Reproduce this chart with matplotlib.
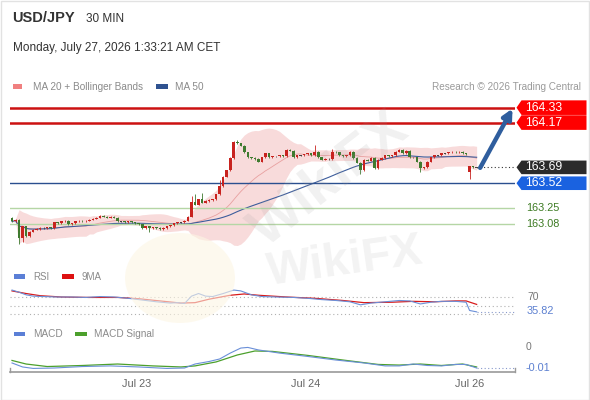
import matplotlib
matplotlib.use("Agg")
import matplotlib.pyplot as plt
from matplotlib.patches import Polygon, Rectangle, FancyArrowPatch, Ellipse
import numpy as np
import pandas as pd

plt.rcParams['font.family'] = ['Liberation Sans', 'DejaVu Sans']

# ---------------- data ----------------
closes = [163.11, 163.13, 162.93, 163.06, 162.95, 163.00, 163.02, 163.03, 163.04, 163.04,
          163.05, 163.04, 163.10, 163.09, 163.11, 163.12, 163.08, 163.09, 163.11, 163.12,
          163.11, 163.12, 163.13, 163.14, 163.15, 163.17, 163.16, 163.15, 163.16, 163.15,
          163.11, 163.11, 163.10, 163.11, 163.10, 163.09, 163.08, 163.04, 163.06, 163.04,
          163.05, 163.04, 163.03, 163.04, 163.06, 163.07, 163.09, 163.10, 163.10, 163.12,
          163.16, 163.32, 163.29, 163.35, 163.31, 163.33, 163.34, 163.35, 163.40, 163.49,
          163.59, 163.66, 163.79, 163.96, 163.95, 163.92, 163.85, 163.80, 163.79, 163.78,
          163.75, 163.80, 163.84, 163.80, 163.81, 163.81, 163.82, 163.81, 163.88, 163.87,
          163.80, 163.82, 163.82, 163.83, 163.84, 163.82, 163.86, 163.80, 163.77, 163.78,
          163.78, 163.86, 163.85, 163.82, 163.81, 163.82, 163.86, 163.79, 163.74, 163.66,
          163.77, 163.76, 163.79, 163.68, 163.77, 163.79, 163.82, 163.81, 163.82, 163.86,
          163.88, 163.84, 163.87, 163.80, 163.80, 163.75, 163.68, 163.69, 163.75, 163.80,
          163.82, 163.82, 163.84, 163.84, 163.85, 163.86, 163.85, 163.86, 163.84, 163.83,
          163.70, 163.69, 163.69]
# opening prices that differ from the previous close (gaps)
open_gaps = {0: 163.15, 130: 163.64}
high_marks = {51: 163.38, 52: 163.40, 54: 163.42, 59: 163.55, 63: 163.97, 64: 163.98,
              86: 163.93, 91: 163.89}
low_marks = {2: 162.87, 3: 162.89, 39: 163.00, 99: 163.62, 116: 163.64, 130: 163.57}

levels_red = [164.33, 164.17]
level_blue = 163.52
level_last = 163.69
levels_green = [163.25, 163.08]

date_ticks = [35.5, 83.5, 130]
date_labels = ["Jul 23", "Jul 24", "Jul 26"]

rsi_idx = [0, 2, 4, 6, 9, 13, 17, 21, 25, 29, 33, 37, 41, 45, 47, 49, 51, 53, 55, 57, 60, 63,
           65, 68, 71, 75, 80, 84, 88, 92, 96, 99, 102, 106, 110, 113, 116, 119, 122, 126, 129,
           130, 132]
rsi_vals = [86, 81, 75, 72, 71, 70, 70, 69, 71, 70, 67, 63, 59, 56, 57, 55, 72, 78, 72, 71, 78,
            86, 84, 75, 71, 70, 69, 67, 64, 62, 59, 52, 56, 59, 62, 61, 54, 58, 60, 60, 58,
            39, 35.82]
ma9_idx = [0, 4, 8, 14, 22, 30, 36, 42, 48, 52, 56, 62, 66, 70, 78, 86, 94, 100, 108, 114, 120,
           126, 129, 132]
ma9_vals = [84, 78, 73, 70, 69, 69, 66, 61, 56, 57, 65, 74, 77, 74, 70, 67, 62, 57, 58, 60, 59,
            61, 61, 53]

macd_idx = [0, 3, 6, 12, 20, 28, 36, 44, 49, 52, 56, 59, 62, 65, 67, 70, 76, 84, 92, 100, 106,
            110, 114, 118, 122, 126, 129, 132]
macd_vals = [-0.0076, -0.0095, -0.0102, -0.0100, -0.0093, -0.0090, -0.0095, -0.0102, -0.0100,
             -0.0081, -0.0069, -0.0057, -0.0029, -0.0005, -0.0002, -0.0014, -0.0029, -0.0045,
             -0.0062, -0.0076, -0.0090, -0.0090, -0.0081, -0.0088, -0.0090, -0.0083, -0.0083,
             -0.0100]
sig_idx = [0, 4, 10, 20, 30, 40, 48, 52, 58, 64, 69, 74, 84, 94, 104, 110, 116, 122, 128, 132]
sig_vals = [-0.0064, -0.0081, -0.0093, -0.0088, -0.0081, -0.0090, -0.0095, -0.0090, -0.0071,
            -0.0038, -0.0019, -0.0021, -0.0040, -0.0062, -0.0083, -0.0086, -0.0081, -0.0088,
            -0.0081, -0.0095]

# ---------------- figure ----------------
W, H = 590, 400
fig = plt.figure(figsize=(5.9, 4.0), dpi=100)
fig.patch.set_facecolor('white')


def rect(x0, y0, x1, y1):
    return [x0 / W, 1 - y1 / H, (x1 - x0) / W, (y1 - y0) / H]


def fx(px):
    return px / W


def fy(py):
    return 1 - py / H


XL = (-0.57, 142.9)
ax = fig.add_axes(rect(10, 100, 515, 245))
ax_rsi = fig.add_axes(rect(10, 285, 515, 320))
ax_macd = fig.add_axes(rect(10, 340, 515, 372))
for a in (ax, ax_rsi, ax_macd):
    a.set_xlim(*XL)
    a.set_facecolor('none')
    for s in a.spines.values():
        s.set_visible(False)
    a.set_yticks([])
    a.set_xticks([])
ax.set_ylim(162.858, 164.412)
ax_rsi.set_ylim(17.1, 97.6)
ax_macd.set_ylim(-0.0119, 0.00333)

# watermark (faint)
fig.patches.append(Ellipse((fx(180), fy(278)), 110 / W, 90 / H, transform=fig.transFigure,
                           facecolor='#fdf6e4', edgecolor='none', alpha=0.6, zorder=0))
fig.text(fx(330), fy(180), "WikiFX", rotation=38, fontsize=40, fontweight='bold',
         color='#9a9a9a', alpha=0.14, ha='center', va='center', zorder=0.5)
fig.text(fx(345), fy(262), "WikiFX", rotation=8, fontsize=34, fontweight='bold',
         color='#9a9a9a', alpha=0.12, ha='center', va='center', zorder=0.5)

# ---------------- main chart ----------------
n = len(closes)
idx = np.arange(n)
s = pd.Series(closes)
ma20 = s.rolling(20, min_periods=1).mean()
sd20 = s.rolling(20, min_periods=2).std(ddof=0).fillna(0)
ma50 = s.rolling(50, min_periods=1).mean()
ax.fill_between(idx, ma20 - 2 * sd20, ma20 + 2 * sd20, color='#f6cccc', alpha=0.7, lw=0, zorder=1)
ax.plot(idx, ma20, color='#e8a0a0', lw=0.6, zorder=2)
ax.plot(idx, ma50, color='#3d5d9c', lw=0.8, zorder=2)

for lv in levels_red:
    ax.axhline(lv, color='#cc1111', lw=1.8, zorder=3)
ax.axhline(level_blue, color='#2a4f8f', lw=1.0, zorder=3)
for lv in levels_green:
    ax.axhline(lv, color='#b5d6a5', lw=1.0, zorder=3)

opens = []
for i in range(n):
    if i in open_gaps:
        opens.append(open_gaps[i])
    else:
        opens.append(closes[i - 1])
for i in range(n):
    o, c = opens[i], closes[i]
    top, bot = max(o, c), min(o, c)
    hi = high_marks.get(i, top + 0.006)
    lo = low_marks.get(i, bot - 0.006)
    col = '#c8231f' if c > o else ('#3f7a2f' if c < o else '#444444')
    ax.vlines(i, lo, hi, color=col, lw=0.6, zorder=4)
    hgt = max(top - bot, 0.007)
    ax.bar(i, hgt, bottom=bot if top - bot >= 0.007 else bot - 0.0035, width=0.72,
           color=col, lw=0, zorder=5)

ax.plot([133, XL[1]], [level_last, level_last], ls=(0, (1, 2.2)), color='#333333', lw=0.8, zorder=3)

arrow = FancyArrowPatch((133, 163.685), (142.2, 164.32), arrowstyle='-|>',
                        mutation_scale=14, color='#2f5e9e', lw=3.2, clip_on=False, zorder=6,
                        shrinkA=0, shrinkB=0)
ax.add_patch(arrow)


def price_fy(p):
    disp = ax.transData.transform((0, p))
    return fig.transFigure.inverted().transform(disp)[1]


def tag(price, color, text, half=7.3):
    yc = price_fy(price)
    h = half / H
    pts = [(fx(516.5), yc), (fx(521.5), yc + h), (fx(586.5), yc + h),
           (fx(586.5), yc - h), (fx(521.5), yc - h)]
    fig.patches.append(Polygon(pts, closed=True, transform=fig.transFigure,
                               facecolor=color, edgecolor='none', zorder=7))
    fig.text(fx(525), yc, text, color='white', fontsize=8.8, ha='left', va='center', zorder=8)


tag(levels_red[0], '#ff0000', f"{levels_red[0]:.2f}")
tag(levels_red[1], '#ff0000', f"{levels_red[1]:.2f}")
tag(level_last, '#2b2b2b', f"{level_last:.2f}", half=6.8)
tag(level_blue, '#1a62e0', f"{level_blue:.2f}", half=6.8)
for lv in levels_green:
    fig.text(fx(526), price_fy(lv), f"{lv:.2f}", color='#3c7a22', fontsize=7.8,
             ha='left', va='center')

# ---------------- RSI ----------------
for lv in (70, 50, 30):
    ax_rsi.axhline(lv, color='#b0b0b0', ls=(0, (1, 2.5)), lw=0.8)
ax_rsi.plot(ma9_idx, ma9_vals, color='#d81b1b', lw=0.9)
ax_rsi.plot(rsi_idx, rsi_vals, color='#6a8fd8', lw=0.8)
ax_rsi.plot([rsi_idx[-1], XL[1]], [rsi_vals[-1]] * 2, color='#8899cc', ls=(0, (1, 2.2)), lw=0.8)
fig.text(fx(527), fy(297), "70", color='#777777', fontsize=7.5, ha='left', va='center')
fig.text(fx(527), fy(310.5), f"{rsi_vals[-1]:.2f}", color='#5b7fd0', fontsize=7.8,
         ha='left', va='center')

# ---------------- MACD ----------------
ax_macd.plot(sig_idx, sig_vals, color='#4ca02c', lw=0.9)
ax_macd.plot(macd_idx, macd_vals, color='#6a8fd8', lw=0.8)
ax_macd.plot([macd_idx[-1], XL[1]], [-0.01, -0.01], color='#8899cc', ls=(0, (1, 2.2)), lw=0.8)
fig.text(fx(526), fy(347), "0", color='#777777', fontsize=7.5, ha='left', va='center')
fig.text(fx(526), fy(368), "-0.01", color='#5b7fd0', fontsize=7.8, ha='left', va='center')

ax_macd.spines['bottom'].set_visible(True)
ax_macd.spines['bottom'].set_color('#9a9a9a')
ax_macd.spines['bottom'].set_linewidth(1.2)
ax_macd.set_xticks(date_ticks)
ax_macd.set_xticklabels(date_labels, fontsize=7.9, color='#666666')
ax_macd.tick_params(axis='x', length=0, pad=5)
for xe in (0, 1):
    ax_macd.plot([xe, xe], [0, 0.13], transform=ax_macd.transAxes, color='#9a9a9a',
                 lw=1.0, clip_on=False)

# ---------------- header & legends ----------------
fig.text(fx(12), fy(18.5), "USD/JPY", fontsize=10.5, fontweight='bold', color='#333333',
         ha='left', va='center')
fig.text(fx(86), fy(19), "30 MIN", fontsize=8.5, color='#333333', ha='left', va='center')
fig.text(fx(13), fy(48), "Monday, July 27, 2026 1:33:21 AM CET", fontsize=8.5,
         color='#333333', ha='left', va='center')


def swatch(x0, x1, yc, color):
    fig.patches.append(Rectangle((fx(x0), fy(yc + 2.2)), (x1 - x0) / W, 4.4 / H,
                                 transform=fig.transFigure, facecolor=color, edgecolor='none'))


swatch(13, 22, 86.5, '#f08080')
fig.text(fx(33), fy(86.5), "MA 20 + Bollinger Bands", fontsize=7.2, color='#8a8a8a',
         ha='left', va='center')
swatch(156, 168, 86.5, '#2f5290')
fig.text(fx(175), fy(86.5), "MA 50", fontsize=7.2, color='#8a8a8a', ha='left', va='center')
fig.text(fx(581), fy(86.5), "Research \u00a9 2026 Trading Central", fontsize=7.2,
         color='#9a9a9a', ha='right', va='center')

swatch(14, 25, 276.5, '#5b7fd6')
fig.text(fx(33), fy(276.5), "RSI", fontsize=7.0, color='#8a8a8a', ha='left', va='center')
swatch(62, 74, 276.5, '#dd1111')
fig.text(fx(82), fy(276.5), "9MA", fontsize=7.0, color='#8a8a8a', ha='left', va='center')

swatch(14, 25, 334, '#5b7fd6')
fig.text(fx(33), fy(334), "MACD", fontsize=7.2, color='#8a8a8a', ha='left', va='center')
swatch(75, 87, 334, '#4ca02c')
fig.text(fx(94), fy(334), "MACD Signal", fontsize=7.2, color='#8a8a8a', ha='left', va='center')

# frame
fig.patches.append(Rectangle((0.5 / W, 0.5 / H), 1 - 1.5 / W, 1 - 1.5 / H,
                             transform=fig.transFigure, facecolor='none',
                             edgecolor='#e2e2e2', lw=1.0))

fig.savefig("out.png", dpi=100, facecolor='white')
